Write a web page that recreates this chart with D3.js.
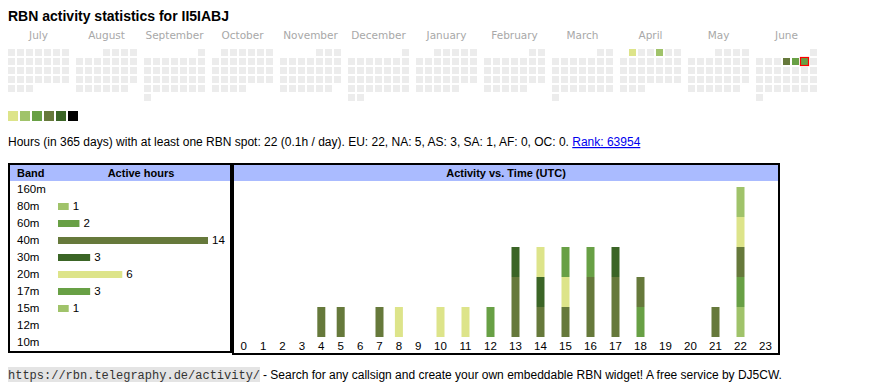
<!DOCTYPE html>
<html><head><meta charset="utf-8">
<script src="https://cdn.jsdelivr.net/npm/d3@7"></script>
<style>
body{margin:0;background:#fff;}
svg{display:block;font-family:"Liberation Sans",Arial,sans-serif;}
</style>
</head><body><svg id="c" width="870" height="390"></svg>
<script>
// ---------- data ----------
const callsign = "II5IABJ";
const monthNames = ["July","August","September","October","November","December","January","February","March","April","May","June"];
const legendColors = ["#dde48a","#a0c36a","#68a045","#66793b","#3b6526","#000000"];
const activeDays = ["2025-04-01","2025-04-04","2025-06-05","2025-06-06","2025-06-07"];
const activeDayLevels = [0,1,3,2,2];
const today = "2025-06-07";
const totalHours = 22;
const perDay = "0.1";
const continents = ["EU","NA","AS","SA","AF","OC"];
const continentHours = [22,5,3,1,0,0];
const rank = 63954;
const bands = ["160m","80m","60m","40m","30m","20m","17m","15m","12m","10m"];
const bandHours = [0,1,2,14,3,6,3,1,0,0];
const bandColors = ["#000000","#a0c36a","#68a045","#66793b","#3b6526","#dde48a","#68a045","#a0c36a","#3b6526","#66793b"];
const hourLabels = ["0","1","2","3","4","5","6","7","8","9","10","11","12","13","14","15","16","17","18","19","20","21","22","23"];
const h160 = [0,0,0,0,0,0,0,0,0,0,0,0,0,0,0,0,0,0,0,0,0,0,0,0];
const h80  = [0,0,0,0,0,0,0,0,0,0,0,0,0,0,0,0,0,0,0,0,0,0,1,0];
const h60  = [0,0,0,0,0,0,0,0,0,0,0,0,0,0,0,0,0,0,1,0,0,0,1,0];
const h40  = [0,0,0,0,1,1,0,1,0,0,0,0,0,2,1,1,2,2,1,0,0,1,1,0];
const h30  = [0,0,0,0,0,0,0,0,0,0,0,0,0,1,1,0,0,1,0,0,0,0,0,0];
const h20  = [0,0,0,0,0,0,0,0,1,0,1,1,0,0,1,1,0,0,0,0,0,0,1,0];
const h17  = [0,0,0,0,0,0,0,0,0,0,0,0,1,0,0,1,1,0,0,0,0,0,0,0];
const h15  = [0,0,0,0,0,0,0,0,0,0,0,0,0,0,0,0,0,0,0,0,0,0,1,0];
const h12  = [0,0,0,0,0,0,0,0,0,0,0,0,0,0,0,0,0,0,0,0,0,0,0,0];
const h10  = [0,0,0,0,0,0,0,0,0,0,0,0,0,0,0,0,0,0,0,0,0,0,0,0];

// ---------- drawing ----------
const svg = d3.select("#c");

svg.append("text").attr("x",8).attr("y",20.5)
  .attr("font-size",14).attr("font-weight","bold").attr("fill","#000")
  .text("RBN activity statistics for " + callsign);

// calendar
const start = new Date(Date.UTC(2024,6,1)), end = new Date(Date.UTC(2025,6,1));
const days = d3.utcDays(start, end);
const monthIdx = d => (d.getUTCFullYear()-2024)*12 + d.getUTCMonth() - 6;
const dow = d => (d.getUTCDay()+6)%7;
const weekRow = d => {
  const first = new Date(Date.UTC(d.getUTCFullYear(), d.getUTCMonth(), 1));
  return Math.floor((d.getUTCDate()-1 + dow(first))/7);
};
const xMonth = d3.scaleLinear().domain([0,1]).range([8,76]);
const xCol = d3.scaleLinear().domain([0,1]).range([0,9]);
const yRow = d3.scaleLinear().domain([0,1]).range([49,58]);
const fmt = d3.utcFormat("%Y-%m-%d");
const levelOf = {};
activeDays.forEach((k,i)=>levelOf[k]=activeDayLevels[i]);

svg.append("g").selectAll("text").data(monthNames).join("text")
  .attr("x",(d,i)=>xMonth(i)+30.5).attr("y",39)
  .attr("text-anchor","middle").attr("font-size",10.5).attr("fill","#a8a8a8")
  .attr("font-family",'"DejaVu Sans",sans-serif')
  .text(d=>d);

svg.append("g").selectAll("rect").data(days).join("rect")
  .attr("x",d=>xMonth(monthIdx(d))+xCol(dow(d)))
  .attr("y",d=>yRow(weekRow(d)))
  .attr("width",7).attr("height",7)
  .attr("fill",d=>{const k=fmt(d); return k in levelOf ? legendColors[levelOf[k]] : "#ececec";});

const td = days.find(d=>fmt(d)===today);
svg.append("rect")
  .attr("x",xMonth(monthIdx(td))+xCol(dow(td))-0.5)
  .attr("y",yRow(weekRow(td))-0.5)
  .attr("width",8).attr("height",8)
  .attr("fill","none").attr("stroke","#ff0000").attr("stroke-width",1.2);

// legend
svg.append("g").selectAll("rect").data(legendColors).join("rect")
  .attr("x",(d,i)=>8+i*12).attr("y",111).attr("width",10).attr("height",10)
  .attr("fill",d=>d);

// info line
const info = svg.append("text").attr("x",8).attr("y",146).attr("font-size",12).attr("fill","#000");
info.append("tspan").text("Hours (in 365 days) with at least one RBN spot: " + totalHours + " (" + perDay + "h / day). " +
  continents.map((c,i)=>c+": "+continentHours[i]).join(", ") + ". ");
info.append("tspan").attr("fill","#0000ee").attr("text-decoration","underline").text("Rank: " + rank);

// ---------- band table ----------
const tbl = svg.append("g");
tbl.append("rect").attr("x",9).attr("y",164).attr("width",222).attr("height",188)
  .attr("fill","#fff").attr("stroke","#000").attr("stroke-width",2);
tbl.append("rect").attr("x",10).attr("y",165).attr("width",220).attr("height",16).attr("fill","#aabbff");
tbl.append("text").attr("x",17).attr("y",177).attr("font-size",11).attr("font-weight","bold").text("Band");
tbl.append("text").attr("x",141).attr("y",177).attr("text-anchor","middle").attr("font-size",11).attr("font-weight","bold").text("Active hours");

const yBand = d3.scaleBand().domain(bands).range([181,351]);
const xHours = d3.scaleLinear().domain([0,14]).range([58,208]);
tbl.append("g").selectAll("text").data(bands).join("text")
  .attr("x",17).attr("y",d=>yBand(d)+12).attr("font-size",11.5).text(d=>d);
const rows = bands.map((b,i)=>({band:b,h:bandHours[i],c:bandColors[i]})).filter(r=>r.h>0);
tbl.append("g").selectAll("rect").data(rows).join("rect")
  .attr("x",xHours(0)).attr("y",r=>yBand(r.band)+5)
  .attr("width",r=>xHours(r.h)-xHours(0)).attr("height",7).attr("fill",r=>r.c);
tbl.append("g").selectAll("text").data(rows).join("text")
  .attr("x",r=>xHours(r.h)+4).attr("y",r=>yBand(r.band)+12).attr("font-size",11.5).text(r=>r.h);

// ---------- activity vs time ----------
const act = svg.append("g");
act.append("rect").attr("x",233).attr("y",164).attr("width",546).attr("height",190)
  .attr("fill","#fff").attr("stroke","#000").attr("stroke-width",2);
act.append("rect").attr("x",234).attr("y",165).attr("width",544).attr("height",16).attr("fill","#aabbff");
act.append("text").attr("x",506).attr("y",177).attr("text-anchor","middle").attr("font-size",11).attr("font-weight","bold").text("Activity vs. Time (UTC)");

// column widths like an auto-laid-out table
const colW = hourLabels.map(l => l.length===1 ? 19.4 : 25.0);
let acc = 234; const centers = colW.map(w=>{const c = acc + w/2; acc += w; return c;});
const xHour = d3.scaleOrdinal().domain(hourLabels).range(centers);
const yAct = d3.scaleLinear().domain([0,5]).range([337,187]);

const bandSeries = [h160,h80,h60,h40,h30,h20,h17,h15,h12,h10];
const table = hourLabels.map((h,i)=>{const o={hour:h}; bands.forEach((b,j)=>o[b]=bandSeries[j][i]); return o;});
const stack = d3.stack().keys(bands)(table);
act.append("g").selectAll("g").data(stack).join("g")
  .attr("fill",(s,i)=>bandColors[i])
  .selectAll("rect").data(s=>s.filter(d=>d[1]>d[0])).join("rect")
  .attr("x",d=>xHour(d.data.hour)-4).attr("width",8)
  .attr("y",d=>yAct(d[1])).attr("height",d=>yAct(d[0])-yAct(d[1]));

act.append("g").selectAll("text").data(hourLabels).join("text")
  .attr("x",d=>xHour(d)).attr("y",349.5).attr("text-anchor","middle").attr("font-size",11.5).text(d=>d);

// ---------- footer ----------
const url = "https://rbn.telegraphy.de/activity/";
svg.append("rect").attr("x",8).attr("y",367).attr("width",252).attr("height",15).attr("fill","#e4e4e4");
svg.append("text").attr("x",8).attr("y",378.5).attr("font-family",'"Liberation Mono","DejaVu Sans Mono",monospace')
  .attr("font-size",12).attr("fill","#333").text(url);
svg.append("text").attr("x",263).attr("y",378.5).attr("font-size",12).attr("fill","#000")
  .text("- Search for any callsign and create your own embeddable RBN widget! A free service by DJ5CW.");
</script>
</body></html>
